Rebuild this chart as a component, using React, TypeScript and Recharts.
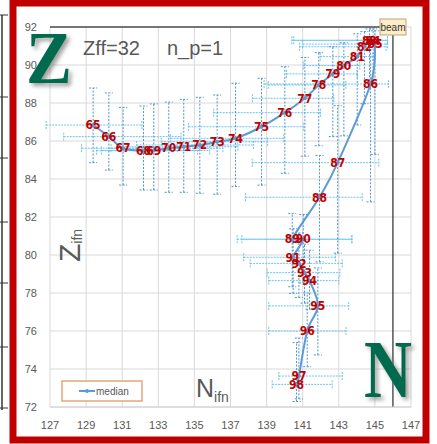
import React from "react";
import {
  CartesianGrid,
  ErrorBar,
  LabelList,
  ReferenceLine,
  Scatter,
  ScatterChart,
  XAxis,
  YAxis,
} from "recharts";

const labels = [
  65, 66, 67, 68, 69, 70, 71, 72, 73, 74, 75, 76, 77, 78, 79, 80, 81, 82, 83,
  84, 85, 86, 87, 88, 89, 90, 91, 92, 93, 94, 95, 96, 97, 98,
];
const nValues = [
  129.39, 130.26, 131.05, 132.18, 132.75, 133.58, 134.41, 135.3, 136.26,
  137.28, 138.72, 140.01, 141.12, 141.89, 142.67, 143.28, 144.02, 144.42,
  144.7, 144.9, 145.0, 144.76, 142.94, 141.93, 140.42, 141.03, 140.47, 140.79,
  141.1, 141.38, 141.84, 141.25, 140.79, 140.66,
];
const zValues = [
  86.84, 86.23, 85.62, 85.49, 85.5, 85.62, 85.7, 85.79, 85.96, 86.14, 86.75,
  87.49, 88.25, 88.95, 89.53, 89.97, 90.44, 90.96, 91.3, 91.3, 91.1, 89.0,
  84.86, 83.04, 80.83, 80.83, 79.88, 79.56, 79.07, 78.65, 77.32, 76.0, 73.63,
  73.19,
];
const nErrLow = [
  2.6, 2.5, 2.3, 2.6, 2.9, 3.2, 3.4, 3.5, 3.1, 3.6, 4.05, 3.94, 2.9, 2.8, 2.57,
  2.25, 2.05, 3.6, 4.2, 4.5, 4.0, 5.9, 4.74, 4.1, 3.05, 3.4, 2.74, 2.7, 2.07,
  2.26, 2.72, 2.13, 1.11, 1.35,
];
const nErrHigh = [
  2.7, 4.0, 3.0, 3.0, 3.1, 3.0, 3.0, 2.97, 2.8, 2.67, 2.34, 1.98, 1.6, 1.5,
  1.35, 0.88, 0.88, 1.2, 1.0, 0.8, 0.7, 1.0, 2.28, 2.37, 3.3, 2.7, 2.35, 2.4,
  1.96, 1.62, 1.71, 2.15, 2.4, 1.97,
];
const zErrLow = [
  1.98, 1.76, 1.94, 2.07, 2.08, 2.32, 2.4, 2.54, 2.76, 2.54, 3.07, 3.19, 3.05,
  3.2, 3.3, 3.7, 3.6, 3.0, 2.5, 2.2, 5.8, 6.2, 4.76, 3.4, 2.5, 2.3, 1.9, 1.8,
  1.6, 1.5, 2.58, 1.88, 1.2, 0.9,
];
const zErrHigh = [
  1.95, 2.3, 2.15, 2.35, 2.45, 2.43, 2.49, 2.51, 2.46, 2.9, 2.55, 2.42, 2.15,
  1.7, 1.43, 1.2, 1.2, 0.8, 0.6, 0.6, 0.7, 2.5, 3.0, 2.2, 1.36, 1.3, 1.5, 1.6,
  1.5, 1.6, 2.0, 2.0, 2.0, 2.2,
];
const nTicks = [127, 129, 131, 133, 135, 137, 139, 141, 143, 145, 147];
const zTicks = [72, 74, 76, 78, 80, 82, 84, 86, 88, 90, 92];
const beamN = 146;
const beamZ = 92;

const data = labels.map((label, i) => ({
  label,
  n: nValues[i],
  z: zValues[i],
  nErr: [nErrLow[i], nErrHigh[i]],
  zErr: [zErrLow[i], zErrHigh[i]],
}));

const BLUE = "#5b9bd5";
const GRAY = "#595959";
const RED = "#c00000";
const GREEN = "#006b50";

// Excel-like smoothed line through the scatter points
function smoothPath(pts: { x: number; y: number }[]) {
  if (!pts || pts.length === 0) return "";
  let d = `M${pts[0].x},${pts[0].y}`;
  for (let i = 0; i < pts.length - 1; i++) {
    const p0 = pts[i - 1] || pts[i];
    const p1 = pts[i];
    const p2 = pts[i + 1];
    const p3 = pts[i + 2] || p2;
    const c1x = p1.x + (p2.x - p0.x) / 6;
    const c1y = p1.y + (p2.y - p0.y) / 6;
    const c2x = p2.x - (p3.x - p1.x) / 6;
    const c2y = p2.y - (p3.y - p1.y) / 6;
    d += ` C${c1x},${c1y} ${c2x},${c2y} ${p2.x},${p2.y}`;
  }
  return d;
}

const renderLine = (props: any) => (
  <path d={smoothPath(props.points)} fill="none" stroke={BLUE} strokeWidth={2} />
);

const renderDot = (props: any) => (
  <circle cx={props.cx} cy={props.cy} r={2} fill={BLUE} />
);

const bracketTicks = [15, 97, 158, 222, 283, 347, 408];

export default function App() {
  return (
    <div
      style={{
        position: "absolute",
        left: 0,
        top: 0,
        width: 437,
        height: 444,
        background: "#fff",
        fontFamily: "'Liberation Sans', Arial, sans-serif",
        overflow: "hidden",
      }}
    >
      <ScatterChart
        width={437}
        height={444}
        margin={{ top: 27, right: 26, bottom: 7, left: 20 }}
      >
        <CartesianGrid stroke="#d9d9d9" />
        <XAxis
          type="number"
          dataKey="n"
          domain={[127, 147]}
          ticks={nTicks}
          allowDataOverflow
          height={30}
          tickLine={false}
          tickMargin={8}
          axisLine={{ stroke: "#d0d0d0" }}
          tick={{ fill: GRAY, fontSize: 11 }}
        />
        <YAxis
          type="number"
          dataKey="z"
          domain={[72, 92]}
          ticks={zTicks}
          allowDataOverflow
          width={30}
          tickLine={false}
          axisLine={false}
          tickMargin={7}
          tick={{ fill: GRAY, fontSize: 11 }}
        />
        <ReferenceLine x={beamN} stroke="#000" strokeWidth={1} />
        <ReferenceLine
          segment={[
            { x: 127, y: beamZ },
            { x: beamN, y: beamZ },
          ]}
          stroke="#000"
          strokeWidth={1}
        />
        <Scatter
          data={data}
          fill={BLUE}
          line={renderLine}
          lineType="joint"
          shape={renderDot}
          isAnimationActive={false}
        >
          <ErrorBar
            dataKey="nErr"
            direction="x"
            width={4}
            stroke="#6cc4ee"
            strokeWidth={1}
            strokeDasharray="2 1"
          />
          <ErrorBar
            dataKey="zErr"
            direction="y"
            width={4}
            stroke="#4f93cf"
            strokeWidth={1}
            strokeDasharray="2 1.5"
          />
          <LabelList
            dataKey="label"
            position="center"
            fill={RED}
            fontSize={12}
            fontWeight="bold"
            fontFamily="'Liberation Sans Narrow', 'DejaVu Sans Condensed', 'Liberation Sans', sans-serif"
          />
        </Scatter>
      </ScatterChart>

      <svg
        width={437}
        height={444}
        style={{ position: "absolute", left: 0, top: 0, pointerEvents: "none" }}
      >
        <defs>
          <filter id="shadow" x="-20%" y="-20%" width="150%" height="150%">
            <feDropShadow dx="3" dy="3" stdDeviation="2" floodColor="#777" floodOpacity="0.7" />
          </filter>
        </defs>

        {/* bracket of the chart behind */}
        <line x1={2} y1={15} x2={2} y2={410} stroke="#333" strokeWidth={1.5} />
        {bracketTicks.map((y) => (
          <line key={y} x1={0} y1={y} x2={8} y2={y} stroke="#333" strokeWidth={1} />
        ))}

        {/* red frame */}
        <rect x={13} y={3} width={413} height={437} fill="none" stroke="#c00000" strokeWidth={7} />

        {/* beam label */}
        <rect x={380} y={19} width={26} height={16} fill="#fcefc7" stroke="#bfa37a" strokeWidth={1} />
        <text x={393} y={31} textAnchor="middle" fontSize={10} fill="#333">
          beam
        </text>

        {/* titles */}
        <text x={83} y={55} fontSize={20} fill={GRAY}>
          Zff=32
        </text>
        <text x={167} y={55} fontSize={20} fill={GRAY}>
          n_p=1
        </text>

        <text transform="translate(80,262) rotate(-90)" fontSize={30} fill={GRAY}>
          Z
          <tspan fontSize={14} dy={2}>
            ifn
          </tspan>
        </text>
        <text x={196} y={397} fontSize={25} fill={GRAY}>
          N
          <tspan fontSize={14} dy={5}>
            ifn
          </tspan>
        </text>

        {/* legend */}
        <rect x={62} y={381} width={80} height={20} fill="#fff" stroke="#e3a57d" strokeWidth={1.5} />
        <line x1={79} y1={391} x2={95} y2={391} stroke={BLUE} strokeWidth={2} />
        <circle cx={87} cy={391} r={2} fill={BLUE} />
        <text x={96} y={395} fontSize={10} fill={GRAY}>
          median
        </text>

        {/* big letters */}
        <g filter="url(#shadow)">
          <text
            transform="translate(26,83) scale(0.92,1)"
            fontSize={75}
            fontWeight="bold"
            fontFamily="'Liberation Serif', 'DejaVu Serif', serif"
            fill={GREEN}
          >
            Z
          </text>
          <text
            transform="translate(364,397) scale(0.81,1)"
            fontSize={82}
            fontWeight="bold"
            fontFamily="'Liberation Serif', 'DejaVu Serif', serif"
            fill={GREEN}
          >
            N
          </text>
        </g>
      </svg>
    </div>
  );
}
